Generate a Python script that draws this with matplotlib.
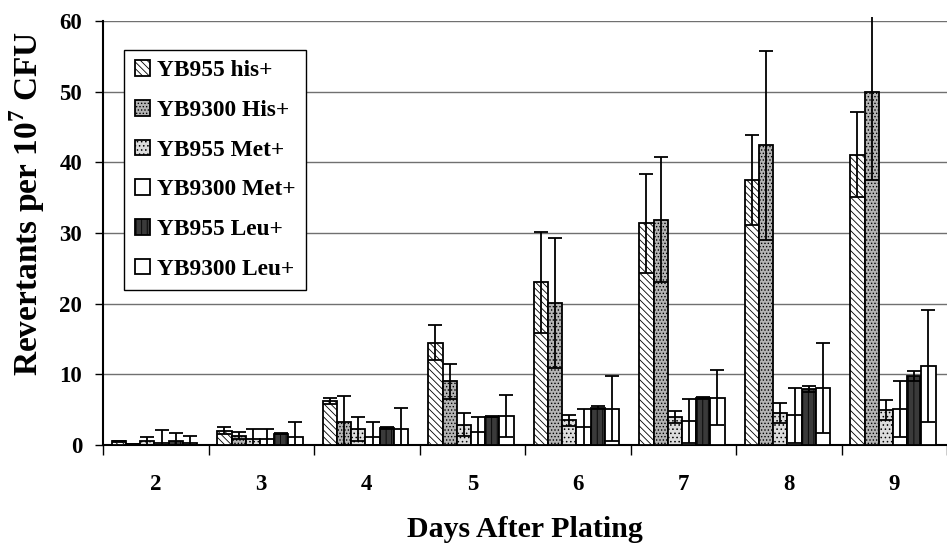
import matplotlib
matplotlib.use("Agg")
import matplotlib.pyplot as plt
import numpy as np
from matplotlib.transforms import Bbox, TransformedBbox

plt.rcParams['font.family'] = ['Liberation Serif', 'DejaVu Serif']
plt.rcParams['mathtext.fontset'] = 'custom'
plt.rcParams['mathtext.rm'] = 'Liberation Serif'
plt.rcParams['mathtext.bf'] = 'Liberation Serif:bold'
plt.rcParams['hatch.linewidth'] = 0.6

days = ['2', '3', '4', '5', '6', '7', '8', '9']
series = ['YB955 his+', 'YB9300 His+', 'YB955 Met+', 'YB9300 Met+', 'YB955 Leu+', 'YB9300 Leu+']

yb955_his = [0.5, 2.0, 6.2, 14.5, 23.0, 31.4, 37.5, 41.1]
yb955_his_sd = [0.05, 0.5, 0.4, 2.5, 7.2, 7.0, 6.3, 6.0]
yb9300_his = [0.1, 1.3, 3.3, 9.0, 20.1, 31.9, 42.4, 49.9]
yb9300_his_sd = [0.1, 0.5, 3.7, 2.5, 9.2, 8.8, 13.4, 12.4]
yb955_met = [0.5, 0.9, 2.2, 2.9, 3.5, 4.0, 4.5, 5.0]
yb955_met_sd = [0.7, 1.3, 1.7, 1.6, 0.8, 0.85, 1.4, 1.4]
yb9300_met = [0.3, 0.8, 1.2, 1.9, 2.5, 3.4, 4.2, 5.1]
yb9300_met_sd = [1.8, 1.4, 2.1, 2.0, 2.6, 3.1, 3.9, 3.9]
yb955_leu = [0.6, 1.6, 2.4, 4.0, 5.3, 6.7, 7.9, 9.8]
yb955_leu_sd = [1.1, 0.1, 0.1, 0.1, 0.2, 0.15, 0.4, 0.7]
yb9300_leu = [0.3, 1.2, 2.2, 4.1, 5.1, 6.7, 8.1, 11.2]
yb9300_leu_sd = [1.0, 2.1, 3.1, 3.0, 4.6, 3.9, 6.4, 7.9]

means = [yb955_his, yb9300_his, yb955_met, yb9300_met, yb955_leu, yb9300_leu]
sds = [yb955_his_sd, yb9300_his_sd, yb955_met_sd, yb9300_met_sd, yb955_leu_sd, yb9300_leu_sd]

styles = [
    dict(facecolor='white', hatch='\\\\\\\\\\'),
    dict(facecolor='#b4b4b4', hatch='.....'),
    dict(facecolor='#dcdcdc', hatch='....'),
    dict(facecolor='white', hatch=''),
    dict(facecolor='#3a3a3a', hatch='|||'),
    dict(facecolor='white', hatch=''),
]

fig = plt.figure(figsize=(9.47, 5.45), dpi=100)
ax = fig.add_axes([103/947, 1 - 445/545, 1 - 103/947, (445 - 21)/545])

x = np.arange(len(days))
bw = 14.4 / 107
start = -0.5 + 9 / 107
cap_clip = TransformedBbox(Bbox([[-0.5, -1], [8.5, 60.6]]), ax.transData)

for k in range(6):
    pos = x + start + bw * (k + 0.5)
    m = np.array(means[k])
    s = np.array(sds[k])
    ax.bar(pos, m, width=bw, edgecolor='black', linewidth=1.3, label=series[k],
           zorder=3, **styles[k])
    lower = np.minimum(s, m)
    eb = ax.errorbar(pos, m, yerr=[lower, s], fmt='none', ecolor='black',
                     elinewidth=1.3, capsize=5.0, capthick=1.3, zorder=4)
    for art in list(eb.lines[1]) + list(eb.lines[2]):
        art.set_clip_box(cap_clip)

ax.set_xlim(-0.5, -0.5 + 844 / 107)
ax.set_ylim(0, 60)
ax.set_yticks(np.arange(0, 61, 10))
ax.set_xticks(x)
ax.set_xticklabels(days, fontsize=16.5, fontweight='bold')
ax.set_xticks(np.arange(-0.5, 8.0, 1.0), minor=True)
ax.tick_params(axis='x', which='major', length=0, pad=21)
ax.tick_params(axis='x', which='minor', length=7, width=1, direction='out')
ax.tick_params(axis='y', length=6, width=1, direction='out', labelsize=16.5, pad=9)
for t in ax.get_yticklabels():
    t.set_fontweight('bold')

ax.yaxis.grid(True, color='#707070', linewidth=1.0, zorder=0)
ax.set_axisbelow(True)
for sp in ['top', 'right']:
    ax.spines[sp].set_visible(False)
ax.spines['left'].set_linewidth(1.5)
ax.spines['bottom'].set_linewidth(1.5)

ax.set_ylabel(r'Revertants per 10$^{\mathbf{7}}$ CFU', fontsize=24, fontweight='bold')
ax.yaxis.set_label_coords(-0.066, 0.57)
ax.set_xlabel('Days After Plating', fontsize=21.5, fontweight='bold')
ax.xaxis.set_label_coords(0.5, -0.168)

leg = ax.legend(loc='upper left', bbox_to_anchor=(0.025, 0.932), borderaxespad=0,
                fancybox=False, edgecolor='black', framealpha=1,
                prop={'family': 'Liberation Serif', 'weight': 'bold', 'size': 16.8},
                handlelength=0.64, handleheight=0.64, handletextpad=0.3,
                labelspacing=0.8, borderpad=0.45)
leg.get_frame().set_linewidth(1.0)

fig.savefig('out.png', dpi=100)
